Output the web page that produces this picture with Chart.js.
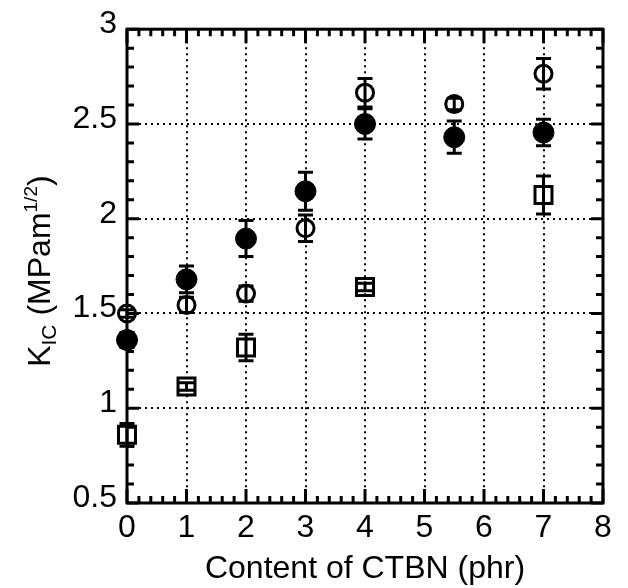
<!DOCTYPE html>
<html>
<head>
<meta charset="utf-8">
<script src="https://cdn.jsdelivr.net/npm/chart.js@4"></script>
<style>
  html, body { margin: 0; padding: 0; background: #fff; }
  canvas { display: block; }
</style>
</head>
<body>
<canvas id="kicChart" width="628" height="588"></canvas>
<script>
// CTBN content (phr) and K_IC values
const xFilled = [0, 1, 2, 3, 4, 5.5, 7];
const kFilled = [1.36, 1.68, 1.895, 2.145, 2.5, 2.43, 2.455];
const errFilled = [0.04, 0.07, 0.095, 0.1, 0.08, 0.085, 0.07];

const xOpen = [0, 1, 2, 3, 4, 5.5, 7];
const kOpen = [1.5, 1.545, 1.605, 1.95, 2.665, 2.605, 2.765];
const errOpen = [0.02, 0.04, 0.04, 0.07, 0.075, 0.03, 0.08];

const xSquare = [0, 1, 2, 4, 7];
const kSquare = [0.86, 1.115, 1.32, 1.64, 2.125];
const errSquare = [0.06, 0.02, 0.07, 0.02, 0.1];

const FONT = "'Liberation Sans', Arial, Helvetica, sans-serif";

const pts = (xs, ys) => xs.map((x, i) => ({ x: x, y: ys[i] }));
const isMajorX = v => Math.abs(v - Math.round(v)) < 1e-6;
const isMajorY = v => Math.abs(v * 2 - Math.round(v * 2)) < 1e-6;

// error bars, inward tick marks, frame and the y title (with sub/superscript)
const plotExtras = {
  id: 'plotExtras',
  beforeDatasetsDraw(chart) {
    const { ctx, scales: { x, y } } = chart;
    ctx.save();
    ctx.strokeStyle = '#000';
    chart.data.datasets.forEach(ds => {
      ds.data.forEach((p, i) => {
        const e = ds.errors[i];
        const px = x.getPixelForValue(p.x);
        const top = y.getPixelForValue(p.y + e);
        const bot = y.getPixelForValue(p.y - e);
        ctx.lineWidth = 3;
        ctx.beginPath();
        ctx.moveTo(px, top);
        ctx.lineTo(px, bot);
        ctx.stroke();
        ctx.lineWidth = 3;
        ctx.beginPath();
        ctx.moveTo(px - 7.5, top);
        ctx.lineTo(px + 7.5, top);
        ctx.moveTo(px - 7.5, bot);
        ctx.lineTo(px + 7.5, bot);
        ctx.stroke();
      });
    });
    ctx.restore();
  },
  afterDraw(chart) {
    const { ctx, chartArea: a, scales: { x, y } } = chart;
    ctx.save();
    ctx.strokeStyle = '#000';
    ctx.lineWidth = 3;
    ctx.beginPath();
    x.ticks.forEach(t => {
      const px = x.getPixelForValue(t.value);
      const len = isMajorX(t.value) ? 14 : 7;
      ctx.moveTo(px, a.bottom);
      ctx.lineTo(px, a.bottom - len);
      ctx.moveTo(px, a.top);
      ctx.lineTo(px, a.top + len);
    });
    y.ticks.forEach(t => {
      const py = y.getPixelForValue(t.value);
      const len = isMajorY(t.value) ? 12 : 7;
      ctx.moveTo(a.left, py);
      ctx.lineTo(a.left + len, py);
      ctx.moveTo(a.right, py);
      ctx.lineTo(a.right - len, py);
    });
    ctx.stroke();
    ctx.lineWidth = 3;
    ctx.strokeRect(a.left, a.top, a.right - a.left, a.bottom - a.top);

    // y axis title: K_IC (MPam^1/2)
    const parts = [
      { t: 'K', size: 32, dy: 0 },
      { t: 'IC', size: 21, dy: 6 },
      { t: ' (MPam', size: 32, dy: 0 },
      { t: '1/2', size: 19, dy: -13 },
      { t: ')', size: 32, dy: 0 }
    ];
    let total = 0;
    parts.forEach(p => {
      ctx.font = p.size + 'px ' + FONT;
      p.w = ctx.measureText(p.t).width;
      total += p.w;
    });
    ctx.translate(50, (a.top + a.bottom) / 2 + 5);
    ctx.rotate(-Math.PI / 2);
    ctx.fillStyle = '#000';
    ctx.textBaseline = 'alphabetic';
    let cx = -total / 2;
    parts.forEach(p => {
      ctx.font = p.size + 'px ' + FONT;
      ctx.fillText(p.t, cx, p.dy);
      cx += p.w;
    });
    ctx.restore();
  }
};

new Chart(document.getElementById('kicChart'), {
  type: 'scatter',
  data: {
    datasets: [
      {
        data: pts(xFilled, kFilled),
        errors: errFilled,
        pointStyle: 'circle',
        pointRadius: 10.5,
        backgroundColor: '#000',
        borderColor: '#000',
        borderWidth: 1,
        clip: false
      },
      {
        data: pts(xOpen, kOpen),
        errors: errOpen,
        pointStyle: 'circle',
        pointRadius: 8.5,
        backgroundColor: 'rgba(0,0,0,0)',
        borderColor: '#000',
        borderWidth: 3,
        clip: false
      },
      {
        data: pts(xSquare, kSquare),
        errors: errSquare,
        pointStyle: 'rect',
        pointRadius: 12,
        backgroundColor: 'rgba(0,0,0,0)',
        borderColor: '#000',
        borderWidth: 3,
        clip: false
      }
    ]
  },
  options: {
    responsive: false,
    animation: false,
    layout: { padding: { top: 28, right: 25, left: 0, bottom: 0 } },
    plugins: {
      legend: { display: false },
      tooltip: { enabled: false }
    },
    scales: {
      x: {
        type: 'linear',
        min: 0,
        max: 8,
        afterFit(scale) { scale.height = 85; },
        border: { display: false, dash: [2, 4] },
        grid: {
          drawTicks: false,
          lineWidth: 2,
          color: c => isMajorX(c.tick.value) ? '#000' : 'rgba(0,0,0,0)'
        },
        ticks: {
          stepSize: 0.2,
          autoSkip: false,
          maxRotation: 0,
          padding: 6,
          color: '#000',
          font: { family: FONT, size: 32 },
          callback: v => isMajorX(v) ? String(Math.round(v)) : ''
        },
        title: {
          display: true,
          text: 'Content of CTBN (phr)',
          color: '#000',
          padding: { top: 0, bottom: 0 },
          font: { family: FONT, size: 32 }
        }
      },
      y: {
        type: 'linear',
        min: 0.5,
        max: 3,
        afterFit(scale) { scale.width = 127; },
        border: { display: false, dash: [2, 4] },
        grid: {
          drawTicks: false,
          lineWidth: 2,
          color: c => isMajorY(c.tick.value) ? '#000' : 'rgba(0,0,0,0)'
        },
        ticks: {
          stepSize: 0.1,
          autoSkip: false,
          padding: 10,
          labelOffset: -5,
          color: '#000',
          font: { family: FONT, size: 32 },
          callback: v => isMajorY(v) ? String(Number(v.toFixed(1))) : ''
        }
      }
    }
  },
  plugins: [plotExtras]
});
</script>
</body>
</html>
